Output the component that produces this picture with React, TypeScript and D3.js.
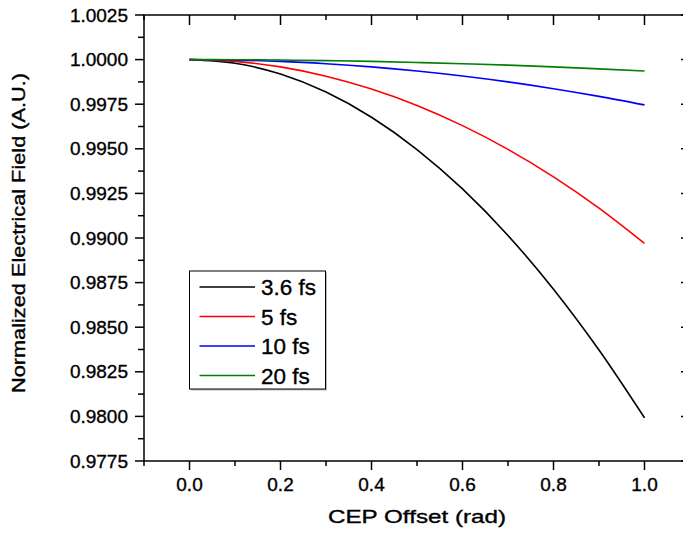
import React from "react";
import * as d3 from "d3";

const cep = [0, 0.1, 0.2, 0.3, 0.4, 0.5, 0.6, 0.7, 0.8, 0.9, 1.0];
const fs36 = [1.0, 0.9998, 0.99919, 0.99818, 0.99677, 0.99496, 0.99275, 0.99014, 0.98713, 0.98372, 0.97992];
const fs5 = [1.0, 0.9999, 0.99959, 0.99907, 0.99835, 0.99743, 0.9963, 0.99497, 0.99343, 0.99168, 0.9897];
const fs10 = [1.0, 0.99997, 0.9999, 0.99977, 0.99959, 0.99936, 0.99908, 0.99875, 0.99837, 0.99794, 0.99746];
const fs20 = [1.0, 0.999994, 0.999975, 0.999944, 0.9999, 0.99984, 0.99977, 0.99969, 0.99959, 0.99948, 0.99936];

const seriesNames = ["3.6 fs", "5 fs", "10 fs", "20 fs"];
const seriesValues = [fs36, fs5, fs10, fs20];
const seriesColors = ["#000000", "#ff0000", "#0000ff", "#007f00"];

const xMajor = [0, 0.2, 0.4, 0.6, 0.8, 1.0];
const xMinor = [-0.1, 0.1, 0.3, 0.5, 0.7, 0.9, 1.1];
const yMajor = [0.9775, 0.98, 0.9825, 0.985, 0.9875, 0.99, 0.9925, 0.995, 0.9975, 1.0, 1.0025];

export default function App() {
  const W = 683, H = 537;
  const L = 144, R = 690, T = 15, B = 461;
  const x = d3.scaleLinear().domain([-0.1, 1.1]).range([L, R]);
  const y = d3.scaleLinear().domain([0.9775, 1.0025]).range([B, T]);
  const yMinor = yMajor.slice(0, -1).map((v) => v + 0.00125);
  const line = d3
    .line<number>()
    .x((_, i) => x(cep[i]))
    .y((d) => y(d))
    .curve(d3.curveMonotoneX);
  const font = "Arial, 'Liberation Sans', sans-serif";
  const legendX = 189.5, legendY = 271, legendW = 136, legendH = 118;
  const rowY = [287, 316.5, 346, 375.5];
  const ts = { stroke: "#000", strokeWidth: 0.35 };

  return (
    <svg
      width={W}
      height={H}
      style={{ position: "absolute", left: 0, top: 0, background: "#fff" }}
      fontFamily={font}
    >
      <rect x={0} y={0} width={W} height={H} fill="#fff" />
      {seriesValues.map((vals, i) => (
        <path key={i} d={line(vals) || ""} fill="none" stroke={seriesColors[i]} strokeWidth={1.6} />
      ))}
      <rect x={L} y={T} width={R - L} height={B - T} fill="none" stroke="#000" strokeWidth={1.5} />
      {xMajor.map((v) => (
        <line key={"bx" + v} x1={x(v)} x2={x(v)} y1={B} y2={B + 9} stroke="#000" strokeWidth={1.5} />
      ))}
      {xMinor.map((v) => (
        <line key={"bxm" + v} x1={x(v)} x2={x(v)} y1={B} y2={B + 5} stroke="#000" strokeWidth={1.5} />
      ))}
      {xMajor.map((v) => (
        <line key={"tx" + v} x1={x(v)} x2={x(v)} y1={T} y2={T + 10} stroke="#000" strokeWidth={1.5} />
      ))}
      {xMinor.map((v) => (
        <line key={"txm" + v} x1={x(v)} x2={x(v)} y1={T} y2={T + 5} stroke="#000" strokeWidth={1.5} />
      ))}
      {yMajor.map((v) => (
        <line key={"ly" + v} x1={L - 9} x2={L} y1={y(v)} y2={y(v)} stroke="#000" strokeWidth={1.5} />
      ))}
      {yMinor.map((v) => (
        <line key={"lym" + v} x1={L - 6} x2={L} y1={y(v)} y2={y(v)} stroke="#000" strokeWidth={1.5} />
      ))}
      {yMajor.map((v) => (
        <line key={"ry" + v} x1={R - 9} x2={R} y1={y(v)} y2={y(v)} stroke="#000" strokeWidth={1.5} />
      ))}
      {yMinor.map((v) => (
        <line key={"rym" + v} x1={R - 5} x2={R} y1={y(v)} y2={y(v)} stroke="#000" strokeWidth={1.5} />
      ))}
      {yMajor.map((v) => (
        <text key={"yl" + v} x={128} y={y(v) + 6.5} textAnchor="end" fontSize={19} fill="#000" {...ts}>
          {v.toFixed(4)}
        </text>
      ))}
      {xMajor.map((v) => (
        <text key={"xl" + v} x={x(v)} y={491} textAnchor="middle" fontSize={19} fill="#000" {...ts}>
          {v.toFixed(1)}
        </text>
      ))}
      <text x={328} y={523} fontSize={19} textLength={178} lengthAdjust="spacingAndGlyphs" fill="#000" {...ts}>
        CEP Offset (rad)
      </text>
      <text
        transform="translate(25,393) rotate(-90)"
        x={0}
        y={0}
        fontSize={17.5}
        textLength={320}
        lengthAdjust="spacingAndGlyphs"
        fill="#000"
        {...ts}
      >
        Normalized Electrical Field (A.U.)
      </text>
      <rect x={legendX + 1.5} y={legendY + 1.5} width={legendW} height={legendH} fill="#bbb" />
      <rect x={legendX} y={legendY} width={legendW} height={legendH} fill="#fff" stroke="#000" strokeWidth={1} />
      {seriesNames.map((n, i) => (
        <g key={n}>
          <line x1={199.5} x2={255} y1={rowY[i]} y2={rowY[i]} stroke={seriesColors[i]} strokeWidth={1.6} />
          <text x={261} y={rowY[i] + 8} fontSize={22.5} fill="#000" {...ts}>
            {n}
          </text>
        </g>
      ))}
    </svg>
  );
}
